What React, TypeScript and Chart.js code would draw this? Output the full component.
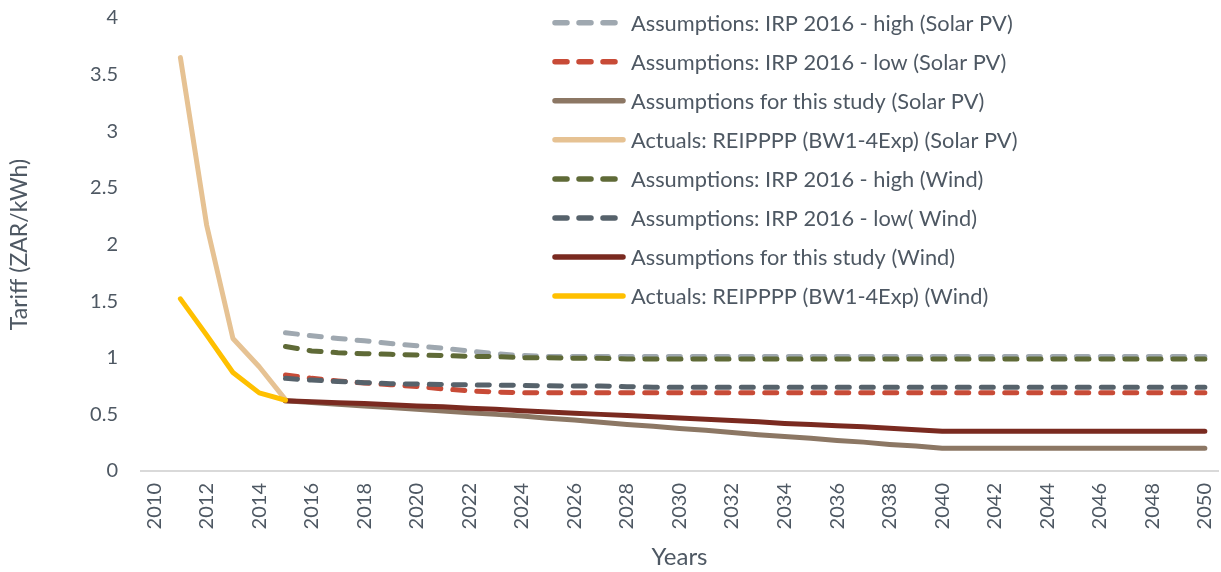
import React, { useEffect, useRef } from "react";
import { Chart, registerables } from "chart.js";

Chart.register(...registerables);

const years: string[] = [];
for (let y = 2010; y <= 2050; y++) years.push(String(y));

const N = null;
// 2010..2050 (41 values)
const solarIrpHigh = [N, N, N, N, N,
  1.22, 1.195, 1.17, 1.15, 1.125, 1.105, 1.085, 1.06, 1.035, 1.02,
  1.01, 1.01, 1.01, 1.01, 1.01, 1.01, 1.01, 1.01, 1.01, 1.01,
  1.01, 1.01, 1.01, 1.01, 1.01, 1.01, 1.01, 1.01, 1.01, 1.01,
  1.01, 1.01, 1.01, 1.01, 1.01, 1.01];
const solarIrpLow = [N, N, N, N, N,
  0.848, 0.818, 0.795, 0.777, 0.762, 0.747, 0.725, 0.708, 0.697, 0.692,
  0.69, 0.69, 0.69, 0.69, 0.69, 0.69, 0.69, 0.69, 0.69, 0.69,
  0.69, 0.69, 0.69, 0.69, 0.69, 0.69, 0.69, 0.69, 0.69, 0.69,
  0.69, 0.69, 0.69, 0.69, 0.69, 0.69];
const solarStudy = [N, N, N, N, N,
  0.62, 0.605, 0.59, 0.575, 0.56, 0.545, 0.53, 0.515, 0.5, 0.485,
  0.465, 0.45, 0.43, 0.41, 0.395, 0.375, 0.36, 0.34, 0.32, 0.305,
  0.29, 0.27, 0.255, 0.235, 0.22, 0.2, 0.2, 0.2, 0.2, 0.2,
  0.2, 0.2, 0.2, 0.2, 0.2, 0.2];
const solarActual = [N, 3.65, 2.17, 1.17, 0.92, 0.63,
  N, N, N, N, N, N, N, N, N, N, N, N, N, N, N, N, N, N, N, N, N, N, N, N, N,
  N, N, N, N, N, N, N, N, N, N];
const windIrpHigh = [N, N, N, N, N,
  1.1, 1.06, 1.045, 1.036, 1.03, 1.025, 1.02, 1.013, 1.01, 1.0,
  1.0, 0.995, 0.995, 0.99, 0.99, 0.99, 0.99, 0.99, 0.99, 0.99,
  0.99, 0.99, 0.99, 0.99, 0.99, 0.99, 0.99, 0.99, 0.99, 0.99,
  0.99, 0.99, 0.99, 0.99, 0.99, 0.99];
const windIrpLow = [N, N, N, N, N,
  0.818, 0.803, 0.79, 0.78, 0.771, 0.768, 0.764, 0.76, 0.758, 0.756,
  0.752, 0.75, 0.75, 0.745, 0.74, 0.74, 0.74, 0.74, 0.74, 0.74,
  0.74, 0.74, 0.74, 0.74, 0.74, 0.74, 0.74, 0.74, 0.74, 0.74,
  0.74, 0.74, 0.74, 0.74, 0.74, 0.74];
const windStudy = [N, N, N, N, N,
  0.62, 0.612, 0.603, 0.595, 0.585, 0.575, 0.567, 0.555, 0.545, 0.533,
  0.522, 0.51, 0.5, 0.489, 0.478, 0.467, 0.456, 0.445, 0.435, 0.42,
  0.41, 0.4, 0.39, 0.378, 0.365, 0.35, 0.35, 0.35, 0.35, 0.35,
  0.35, 0.35, 0.35, 0.35, 0.35, 0.35];
const windActual = [N, 1.52, 1.2, 0.87, 0.69, 0.625,
  N, N, N, N, N, N, N, N, N, N, N, N, N, N, N, N, N, N, N, N, N, N, N, N, N,
  N, N, N, N, N, N, N, N, N, N];

const seriesNames = [
  "Assumptions: IRP 2016 - high (Solar PV)",
  "Assumptions: IRP 2016 - low (Solar PV)",
  "Assumptions for this study (Solar PV)",
  "Actuals: REIPPPP (BW1-4Exp) (Solar PV)",
  "Assumptions: IRP 2016 - high (Wind)",
  "Assumptions: IRP 2016 - low( Wind)",
  "Assumptions for this study (Wind)",
  "Actuals: REIPPPP (BW1-4Exp) (Wind)",
];
const seriesData = [solarIrpHigh, solarIrpLow, solarStudy, solarActual, windIrpHigh, windIrpLow, windStudy, windActual];
const seriesColors = ["#9FA8B0", "#C84B37", "#8C7764", "#E6C293", "#5F6A37", "#56626B", "#7A2A20", "#FFC000"];
const seriesDashed = [true, true, false, false, true, true, false, false];

const yTicks = [0, 0.5, 1, 1.5, 2, 2.5, 3, 3.5, 4];

const TEXT = "#4E5863";
const FONT = "Lato";

const legendPlugin = {
  id: "insideLegend",
  afterDraw(chart: any) {
    const ctx = chart.ctx;
    ctx.save();
    ctx.font = `20px ${FONT}`;
    const w = ctx.measureText(seriesNames[0]).width;
    const size = (20 * 382) / w;
    ctx.font = `${size}px ${FONT}`;
    ctx.textBaseline = "middle";
    ctx.fillStyle = TEXT;
    const x0 = 555, x1 = 623, tx = 631;
    seriesNames.forEach((name, i) => {
      const y = 22.7 + 39.05 * i;
      ctx.beginPath();
      ctx.strokeStyle = seriesColors[i];
      ctx.lineWidth = 5.5;
      ctx.lineCap = "round";
      ctx.setLineDash(seriesDashed[i] ? [12, 12] : []);
      ctx.moveTo(x0, y);
      ctx.lineTo(seriesDashed[i] ? x1 - 6 : x1, y);
      ctx.stroke();
      ctx.setLineDash([]);
      ctx.fillText(name, tx, y + 1);
    });
    ctx.restore();
  },
};

export default function App() {
  const ref = useRef<HTMLCanvasElement | null>(null);
  useEffect(() => {
    if (!ref.current) return;
    const chart = new Chart(ref.current, {
      type: "line",
      data: {
        labels: years,
        datasets: seriesData.map((d, i) => ({
          label: seriesNames[i],
          data: d,
          borderColor: seriesColors[i],
          backgroundColor: seriesColors[i],
          borderWidth: 5,
          borderDash: seriesDashed[i] ? [12, 12] : [],
          borderCapStyle: "round",
          borderJoinStyle: "round",
          pointRadius: 0,
          pointHoverRadius: 0,
          tension: 0,
          fill: false,
          order: -i,
        })),
      },
      options: {
        responsive: false,
        animation: false,
        layout: { padding: { top: 18, right: 3, left: 0, bottom: 0 } },
        plugins: { legend: { display: false }, tooltip: { enabled: false } },
        scales: {
          x: {
            type: "category",
            offset: true,
            grid: { display: false, drawTicks: false },
            border: { display: true, color: "#D9D9D9", width: 2 },
            ticks: {
              autoSkip: false,
              maxRotation: 90,
              minRotation: 90,
              padding: 12,
              color: TEXT,
              font: { family: FONT, size: 20 },
              callback: (_v: any, idx: number) => (idx % 2 === 0 ? years[idx] : ""),
            },
            title: {
              display: true,
              text: "Years",
              color: TEXT,
              font: { family: FONT, size: 24 },
              padding: { top: 0, bottom: 0 },
            },
            afterFit: (s: any) => {
              s.height = 101;
              s.paddingLeft = 0;
              s.paddingRight = 0;
            },
          },
          y: {
            min: 0,
            max: 4,
            grid: { display: false, drawTicks: false },
            border: { display: false },
            afterBuildTicks: (s: any) => { s.ticks = yTicks.map((v) => ({ value: v })); },
            ticks: {
              padding: 23,
              color: TEXT,
              font: { family: FONT, size: 20 },
              callback: (v: any) => String(v),
            },
            title: {
              display: true,
              text: "Tariff (ZAR/kWh)",
              color: TEXT,
              font: { family: FONT, size: 23 },
              padding: { top: 6, bottom: 0 },
            },
            afterFit: (s: any) => {
              s.width = 141;
              s.paddingTop = 0;
              s.paddingBottom = 0;
            },
          },
        },
      },
      plugins: [legendPlugin],
    } as any);
    return () => chart.destroy();
  }, []);
  return (
    <div style={{ position: "absolute", left: 0, top: 0, width: 1221, height: 572, background: "#fff" }}>
      <canvas ref={ref} width={1221} height={572} style={{ display: "block" }} />
    </div>
  );
}
